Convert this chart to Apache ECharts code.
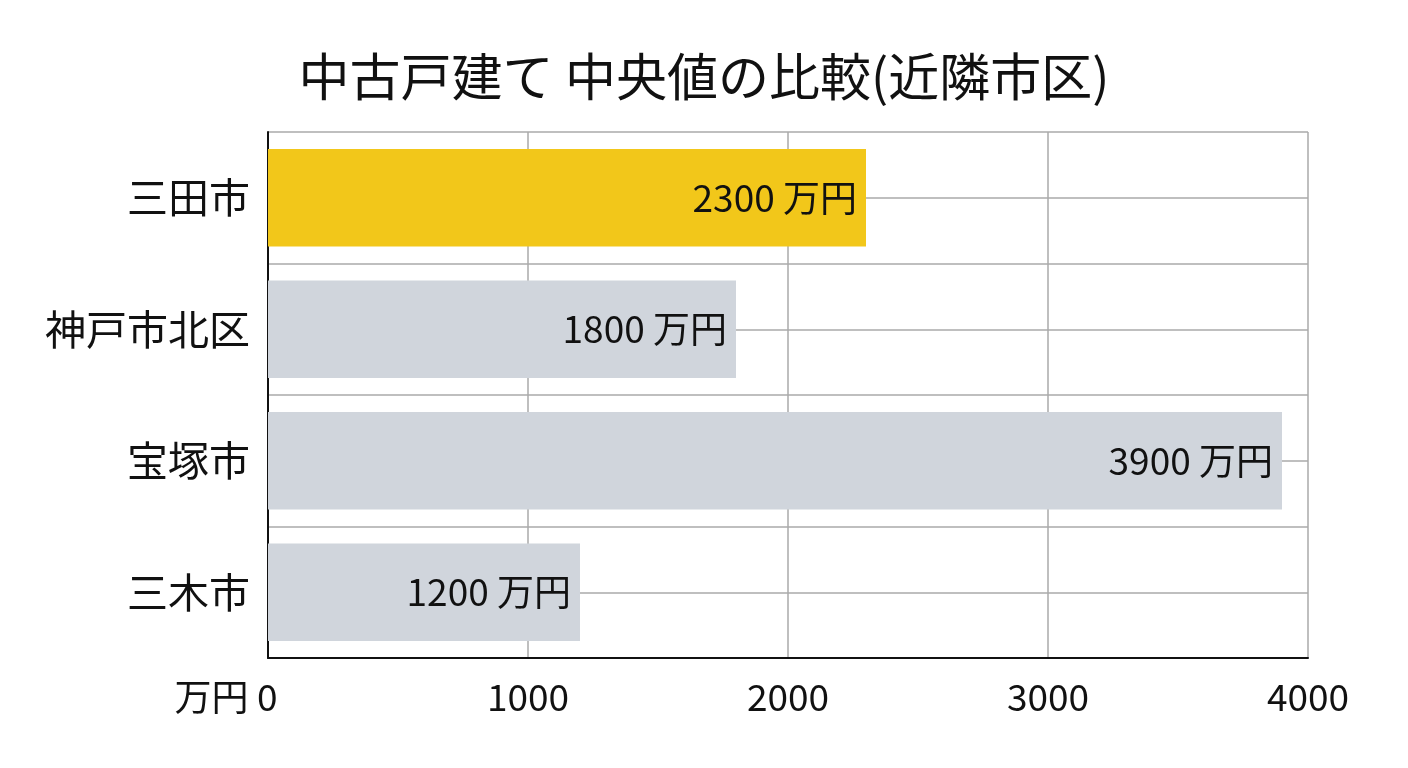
<!DOCTYPE html>
<html>
<head>
<meta charset="utf-8">
<script src="https://cdn.jsdelivr.net/npm/echarts@6/dist/echarts.min.js"></script>
<style>
  html, body { margin: 0; padding: 0; background: #fff; }
  #chart { width: 1408px; height: 768px; }
</style>
</head>
<body>
<div id="chart"></div>
<script>
var cities = ['三田市', '神戸市北区', '宝塚市', '三木市'];
var medians = [2300, 1800, 3900, 1200];
var barColors = ['#F2C71A', '#D0D5DC', '#D0D5DC', '#D0D5DC'];
var xTicks = [0, 1000, 2000, 3000, 4000];

var font = '"Noto Sans CJK JP", "Noto Sans", sans-serif';
var chart = echarts.init(document.getElementById('chart'));

var option = {
    backgroundColor : '#fff',
    title : {
        text : '中古戸建て 中央値の比較(近隣市区)',
        left : 'center',
        top : 46,
        textStyle : { fontFamily : font, fontSize : 51, fontWeight : 'normal', color : '#111' }
    },
    grid : { left : 268, right : 100, top : 132, bottom : 110, containLabel : false },
    xAxis : {
        type : 'value',
        min : xTicks[0],
        max : xTicks[xTicks.length - 1],
        interval : 1000,
        axisLine : { show : true, lineStyle : { color : '#111', width : 2 } },
        axisTick : { show : false },
        splitLine : { show : true, lineStyle : { color : '#aaa', width : 1.5 } },
        axisLabel : {
            margin : 20,
            fontFamily : font, fontSize : 37, color : '#111',
            formatter : function (v) { return v === 0 ? '{u|万円 }0{p|}' : String(v); },
            rich : {
                u : { fontFamily : font, fontSize : 37, color : '#111' },
                p : { width : 84 }
            }
        }
    },
    yAxis : [
        {
            type : 'category',
            data : cities,
            inverse : true,
            axisLine : { show : true, lineStyle : { color : '#111', width : 2 } },
            axisTick : { show : false },
            splitLine : { show : false },
            axisLabel : { margin : 18, fontFamily : font, fontSize : 41, color : '#111' }
        },
        {
            type : 'value',
            min : 0,
            max : 8,
            interval : 1,
            position : 'left',
            axisLine : { show : false },
            axisTick : { show : false },
            axisLabel : { show : false },
            splitLine : { show : true, lineStyle : { color : '#aaa', width : 1.5 } }
        }
    ],
    series : [
        {
            type : 'bar',
            yAxisIndex : 0,
            barWidth : '74%',
            z : 3,
            data : medians.map(function (v, i) {
                return { value : v, itemStyle : { color : barColors[i] } };
            }),
            label : {
                show : true,
                position : 'insideRight',
                distance : 9,
                fontFamily : font, fontSize : 37, color : '#111',
                formatter : '{c} 万円'
            }
        }
    ]
};
chart.setOption(option);
</script>
</body>
</html>
